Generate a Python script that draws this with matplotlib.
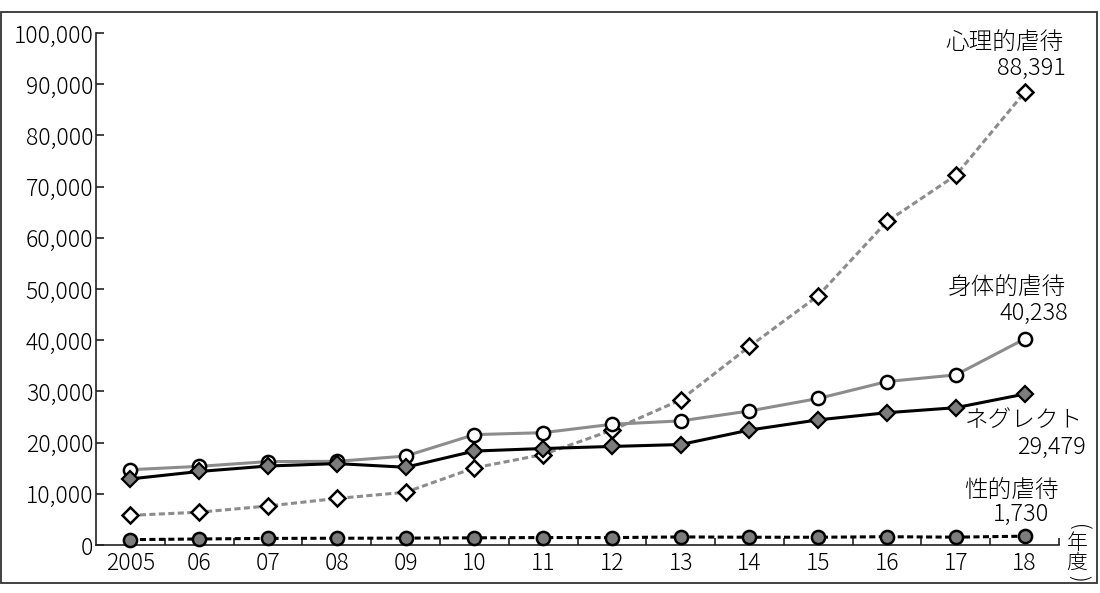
import matplotlib
matplotlib.use("Agg")
import matplotlib.pyplot as plt
from matplotlib.patches import Rectangle

plt.rcParams['font.family'] = ['Noto Sans CJK JP', 'DejaVu Sans']
plt.rcParams['font.weight'] = 'light'

years = list(range(2005, 2019))
year_labels = ['2005', '06', '07', '08', '09', '10', '11', '12', '13', '14', '15', '16', '17', '18']
physical = [14712, 15364, 16296, 16343, 17371, 21559, 21942, 23579, 24245, 26181, 28621, 31925, 33223, 40238]
neglect = [12911, 14365, 15429, 15905, 15185, 18352, 18847, 19250, 19627, 22455, 24444, 25842, 26821, 29479]
sexual = [1052, 1180, 1293, 1324, 1350, 1405, 1460, 1449, 1582, 1520, 1521, 1622, 1537, 1730]
psych = [5797, 6414, 7621, 9092, 10305, 15068, 17670, 22423, 28348, 38775, 48700, 63186, 72197, 88391]
y_ticks = [0, 10000, 20000, 30000, 40000, 50000, 60000, 70000, 80000, 90000, 100000]

fig = plt.figure(figsize=(11, 5.93), dpi=100)
fig.patches.append(Rectangle((0.001, 0.017), 0.996, 0.963, transform=fig.transFigure,
                             fill=False, edgecolor='#333333', linewidth=1.3))
ax = fig.add_axes([0.0873, 0.0809, 0.8754, 0.8635])

gray_line = '#8c8c8c'
gray_fill = '#7c7c7c'
lw = 2.2

ax.plot(years, psych, linestyle=(0, (2.0, 1.1)), color=gray_line, lw=lw,
        marker='D', ms=8.5, mfc='white', mec='black', mew=1.8, clip_on=False, zorder=3)
ax.plot(years, sexual, linestyle=(0, (2.0, 1.1)), color='black', lw=lw,
        marker='o', ms=9.5, mfc=gray_fill, mec='black', mew=1.8, clip_on=False, zorder=4)
ax.plot(years, physical, linestyle='-', color=gray_line, lw=lw,
        marker='o', ms=9.5, mfc='white', mec='black', mew=1.8, clip_on=False, zorder=5)
ax.plot(years, neglect, linestyle='-', color='black', lw=lw,
        marker='D', ms=8.5, mfc=gray_fill, mec='black', mew=1.6, clip_on=False, zorder=6)

ax.set_xlim(2004.5, 2018.5)
ax.set_ylim(0, 100000)
for s in ['top', 'right']:
    ax.spines[s].set_visible(False)
for s in ['left', 'bottom']:
    ax.spines[s].set_linewidth(1.2)
    ax.spines[s].set_color('#222222')

ax.set_yticks(y_ticks)
ax.set_yticklabels([f'{v:,}' for v in y_ticks], fontsize=16.5)
ax.tick_params(axis='y', direction='in', length=6, width=1.2, pad=2, color='#222222')

ax.set_xticks([y + 0.5 for y in years])
ax.set_xticklabels([])
ax.tick_params(axis='x', which='major', direction='in', length=5, width=1.2, color='#222222')
ax.set_xticks(years, minor=True)
ax.set_xticklabels(year_labels, minor=True, fontsize=16.5)
ax.tick_params(axis='x', which='minor', length=0, pad=4)

kw = dict(transform=fig.transFigure, ha='right', va='center', fontsize=17)
def fx(px): return px / 1100
def fy(py): return 1 - py / 593

fig.text(fx(1064), fy(43), '心理的虐待', **kw)
fig.text(fx(1066), fy(68), '88,391', **kw)
fig.text(fx(1066), fy(288), '身体的虐待', **kw)
fig.text(fx(1068), fy(313), '40,238', **kw)
fig.text(fx(1083), fy(421), 'ネグレクト', **kw)
fig.text(fx(1086), fy(447), '29,479', **kw)
fig.text(fx(1059), fy(491), '性的虐待', **kw)
fig.text(fx(1049), fy(514), '1,730', **kw)

vk = dict(transform=fig.transFigure, ha='center', va='center', fontsize=15)
fig.text(fx(1077), fy(527), '(', rotation=-90, **vk)
fig.text(fx(1077), fy(543), '年', **vk)
fig.text(fx(1077), fy(563), '度', **vk)
fig.text(fx(1077), fy(578), ')', rotation=-90, **vk)

fig.savefig('out.png', dpi=100)
